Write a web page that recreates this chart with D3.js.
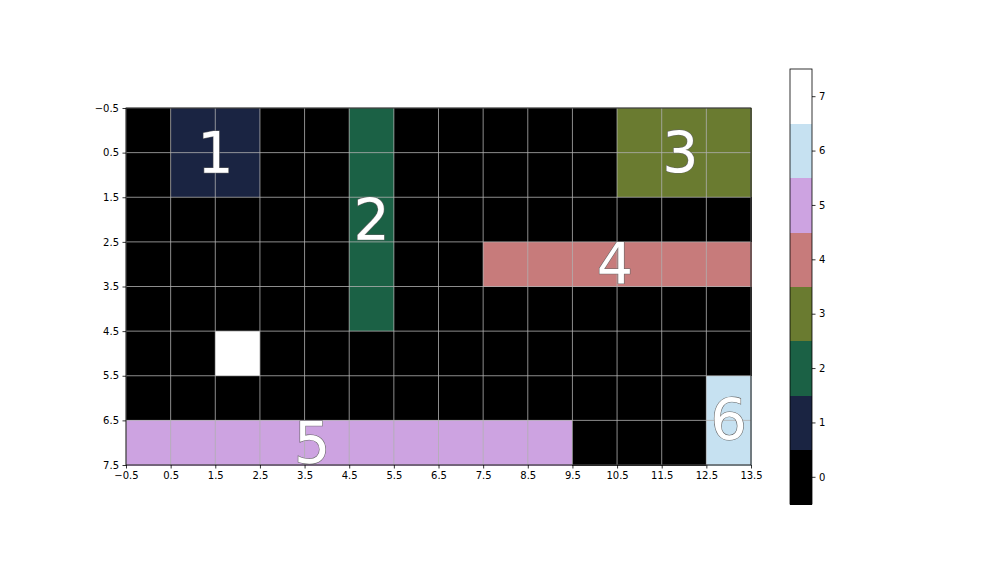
<!DOCTYPE html>
<html><head><meta charset="utf-8">
<script src="https://cdn.jsdelivr.net/npm/d3@7"></script>
<style>body{margin:0;background:#fff}svg{display:block}text{font-family:"DejaVu Sans",sans-serif}</style>
</head><body>
<svg id="c" width="1008" height="576"></svg>
<script>
// grid values (rows top→bottom)
const grid = [
  [0,1,1,0,0,2,0,0,0,0,0,3,3,3],
  [0,1,1,0,0,2,0,0,0,0,0,3,3,3],
  [0,0,0,0,0,2,0,0,0,0,0,0,0,0],
  [0,0,0,0,0,2,0,0,4,4,4,4,4,4],
  [0,0,0,0,0,2,0,0,0,0,0,0,0,0],
  [0,0,7,0,0,0,0,0,0,0,0,0,0,0],
  [0,0,0,0,0,0,0,0,0,0,0,0,0,6],
  [5,5,5,5,5,5,5,5,5,5,0,0,0,6]
];
const levels = [0,1,2,3,4,5,6,7];
const palette = ["#000000","#1a2442","#1b6145","#6a7b30","#c77b7b","#cda3e1","#c6e1f1","#ffffff"];
const labelText = ["1","2","3","4","5","6"];
const labelX = [1.5, 5, 11.92, 10.45, 3.67, 13];
const labelY = [0.5, 2, 0.5, 3, 7, 6.5];
const xTicks = d3.range(-0.5, 14, 1);
const yTicks = d3.range(-0.5, 8, 1);

const svg = d3.select("#c");
const L = 126, R = 751, T = 108, B = 465;
const x = d3.scaleLinear().domain([-0.5, 13.5]).range([L, R]);
const y = d3.scaleLinear().domain([-0.5, 7.5]).range([T, B]);
const color = d3.scaleOrdinal().domain(levels).range(palette);
const fmt = v => (v < 0 ? "\u2212" : "") + Math.abs(v).toFixed(1);

const cells = [];
grid.forEach((row, r) => row.forEach((v, c) => cells.push({r, c, v})));
svg.append("g").selectAll("rect").data(cells).join("rect")
  .attr("x", d => x(d.c - 0.5)).attr("y", d => y(d.r - 0.5))
  .attr("width", x(1) - x(0) + 0.5).attr("height", y(1) - y(0) + 0.5)
  .attr("fill", d => color(d.v)).attr("shape-rendering", "crispEdges");

// grid lines
const gg = svg.append("g").attr("stroke", "#b0b0b0").attr("stroke-width", 0.8);
gg.selectAll(".vx").data(xTicks).join("line")
  .attr("x1", d => x(d)).attr("x2", d => x(d)).attr("y1", T).attr("y2", B);
gg.selectAll(".hy").data(yTicks).join("line")
  .attr("y1", d => y(d)).attr("y2", d => y(d)).attr("x1", L).attr("x2", R);

// labels
svg.append("g").selectAll("text").data(labelText).join("text")
  .attr("x", (d, i) => x(labelX[i])).attr("y", (d, i) => y(labelY[i]))
  .attr("text-anchor", "middle").attr("dominant-baseline", "central")
  .attr("font-size", 57).attr("fill", "#fff")
  .attr("stroke", "#666").attr("stroke-width", 1.2).attr("paint-order", "stroke")
  .text(d => d);

// axes
const xa = svg.append("g").attr("transform", `translate(0,${B})`)
  .call(d3.axisBottom(x).tickValues(xTicks).tickFormat(fmt).tickSize(3.5).tickPadding(3.5));
const ya = svg.append("g").attr("transform", `translate(${L},0)`)
  .call(d3.axisLeft(y).tickValues(yTicks).tickFormat(fmt).tickSize(3.5).tickPadding(3.5));
[xa, ya].forEach(a => {
  a.select(".domain").remove();
  a.selectAll("text").attr("font-size", 10).attr("fill", "#000").style("font-family", "DejaVu Sans");
  a.selectAll("line").attr("stroke", "#000").attr("stroke-width", 0.8);
});
svg.append("rect").attr("x", L).attr("y", T).attr("width", R - L).attr("height", B - T)
  .attr("fill", "none").attr("stroke", "#000").attr("stroke-width", 0.8);

// colorbar
const CL = 790, CR = 812, CT = 69, CB = 504;
const cy = d3.scaleLinear().domain([-0.5, 7.5]).range([CB, CT]);
svg.append("g").selectAll("rect").data(levels).join("rect")
  .attr("x", CL).attr("width", CR - CL)
  .attr("y", d => cy(d + 0.5)).attr("height", cy(0) - cy(1) + 0.5)
  .attr("fill", d => color(d)).attr("shape-rendering", "crispEdges");
svg.append("rect").attr("x", CL).attr("y", CT).attr("width", CR - CL).attr("height", CB - CT)
  .attr("fill", "none").attr("stroke", "#000").attr("stroke-width", 0.8);
const ca = svg.append("g").attr("transform", `translate(${CR},0)`)
  .call(d3.axisRight(cy).tickValues(levels).tickFormat(d3.format("d")).tickSize(3.5).tickPadding(3.5));
ca.select(".domain").remove();
ca.selectAll("text").attr("font-size", 10).attr("fill", "#000").style("font-family", "DejaVu Sans");
ca.selectAll("line").attr("stroke", "#000").attr("stroke-width", 0.8);
</script>
</body></html>
